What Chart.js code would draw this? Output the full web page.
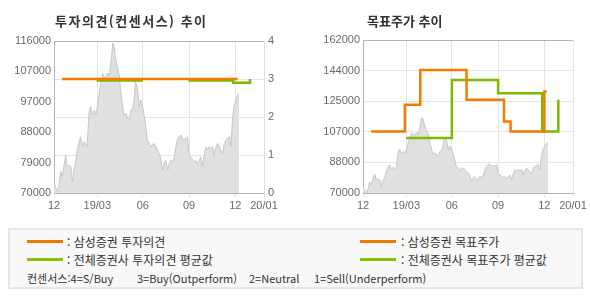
<!DOCTYPE html>
<html lang="ko">
<head>
<meta charset="UTF-8">
<title>투자의견 / 목표주가 추이</title>
<script src="https://cdn.jsdelivr.net/npm/chart.js"></script>
<style>
  body { margin: 0; background: #fff; font-family: "Noto Sans CJK KR", sans-serif; }
  #wrap { position: relative; width: 590px; height: 300px; overflow: hidden; }
  canvas { position: absolute; top: 0; }
  .title { position: absolute; top: 13px; font-size: 13px; line-height: 16px; font-weight: bold; color: #333; white-space: nowrap; }
  .legend { position: absolute; left: 8px; top: 228px; width: 571px; height: 57px; border: 2px solid #e6e6e6; background: #f8f8f8; }
  .sw { position: absolute; width: 36px; height: 3px; }
  .lt { position: absolute; font-size: 12px; line-height: 14px; color: #333; white-space: nowrap; }
  .cs { position: absolute; top: 41px; font-size: 11px; line-height: 14px; color: #333; white-space: nowrap; }
</style>
</head>
<body>
<div id="wrap">
  <canvas id="opinionChart" width="300" height="220" style="left:0"></canvas>
  <canvas id="targetChart" width="290" height="220" style="left:300px"></canvas>
  <div class="title" style="left:55px; letter-spacing:1.5px">투자의견(컨센서스) 추이</div>
  <div class="title" style="left:367px">목표주가 추이</div>
  <div class="legend">
    <div class="sw" style="left:17px; top:10px; background:#f07800"></div>
    <div class="lt" style="left:57px; top:5px">: 삼성증권 투자의견</div>
    <div class="sw" style="left:350px; top:10px; background:#f07800"></div>
    <div class="lt" style="left:391px; top:5px">: 삼성증권 목표주가</div>
    <div class="sw" style="left:17px; top:28px; background:#84c300"></div>
    <div class="lt" style="left:57px; top:23px">: 전체증권사 투자의견 평균값</div>
    <div class="sw" style="left:350px; top:28px; background:#84c300"></div>
    <div class="lt" style="left:391px; top:23px">: 전체증권사 목표주가 평균값</div>
    <div class="cs" style="left:17px">컨센서스:4=S/Buy</div>
    <div class="cs" style="left:127px">3=Buy(Outperform)</div>
    <div class="cs" style="left:239px">2=Neutral</div>
    <div class="cs" style="left:304px">1=Sell(Underperform)</div>
  </div>
</div>

<script>
  // x axis = trading-day index since early Dec 2018
  const xTickDays = [0, 59, 121, 184, 247, 286];
  const xTickLabels = ['12', '19/03', '06', '09', '12', '20/01'];

  // stock price (gray area)
  const priceDays = [0, 2, 5, 7, 9, 11, 14, 16, 18, 20, 23, 25, 27, 30, 32, 34, 36, 39, 41, 43,
    45, 48, 50, 52, 55, 57, 59, 61, 64, 66, 68, 70, 73, 75, 77, 80, 82, 84, 86, 89,
    91, 93, 95, 98, 100, 102, 105, 107, 109, 111, 114, 116, 118, 120, 123, 125, 127, 130, 132, 134,
    136, 139, 141, 143, 145, 148, 150, 152, 155, 157, 159, 161, 164, 166, 168, 170, 173, 175, 177, 180,
    182, 184, 186, 189, 191, 193, 195, 198, 200, 202, 205, 207, 209, 211, 214, 216, 218, 220, 223, 225,
    227, 230, 232, 234, 236, 239, 241, 243, 245, 248, 250, 252];
  const priceValues = [73800, 71800, 70400, 72500, 76500, 74900, 78900, 81400, 77900, 78400,
    77900, 73300, 76900, 79900, 83500, 85000, 87000, 84000, 85500, 85000,
    84000, 95100, 96100, 93600, 95100, 93600, 96100, 99200, 103200, 106300,
    105300, 104800, 106300, 105300, 108300, 115400, 114400, 110300, 108300, 105300,
    100200, 97100, 93600, 94100, 92600, 92100, 95100, 95600, 98200, 103700,
    101200, 96100, 98200, 97100, 93100, 90100, 86000, 85000, 84000, 84500,
    85000, 84000, 83000, 82000, 80900, 76900, 78900, 79900, 76900, 78900,
    79900, 79400, 80900, 84000, 86000, 87000, 87500, 86500, 86000, 86500,
    87000, 82000, 80900, 79900, 79400, 79900, 78900, 79900, 80900, 77900,
    82000, 84000, 83000, 84000, 83500, 84000, 80900, 83500, 85000, 84000,
    83000, 82000, 85000, 86000, 86500, 87000, 84000, 92100, 96100, 98200,
    99700, 100200];

  // investment opinion (right axis 0-4)
  const opinionSamsungDays = [11, 250];
  const opinionSamsung = [3, 3];
  const opinionAvgDays = [58, 121, 150, 183, 244, 267];
  const opinionAvg = [2.96, 2.96, null, 2.96, 2.9, 3];

  const priceTicks = [70000, 79200, 88400, 97600, 106800, 116000];
  const priceTickLabels = ['70000', '79000', '88000', '97000', '107000', '116000'];

  // target price
  const targetTicks = [70000, 88400, 106800, 125200, 143600, 162000];
  const targetTickLabels = ['70000', '88000', '107000', '125000', '144000', '162000'];
  const targetSamsungDays = [11, 57, 78, 141, 192, 201, 247, 250];
  const targetSamsung = [107000, 123000, 144000, 126000, 113000, 107000, 131000, 131000];
  const targetAvgDays = [59, 121, 184, 244, 266];
  const targetAvg = [103000, 138000, 130000, 107000, 126000];

  const ORANGE = '#f57a00';
  const GREEN = '#7cb900';
  const LABEL = '#6a6a6a';
  const GRID = '#e6e6e6';
  const AXIS = '#b4b4b4';

  Chart.defaults.font.family = '"Liberation Sans", Arial, sans-serif';
  Chart.defaults.font.size = 11;
  Chart.defaults.color = LABEL;

  const frameTop = {
    id: 'frameTop',
    afterDatasetsDraw(chart) {
      const { ctx, chartArea: a } = chart;
      ctx.save();
      ctx.strokeStyle = AXIS;
      ctx.lineWidth = 1;
      ctx.beginPath();
      ctx.moveTo(a.left, Math.round(a.top) + 0.5);
      ctx.lineTo(a.right, Math.round(a.top) + 0.5);
      ctx.stroke();
      ctx.restore();
    }
  };

  function pts(days, vals) {
    return days.map((d, i) => ({ x: d, y: vals[i] }));
  }

  function priceDataset(axis) {
    return {
      data: pts(priceDays, priceValues), yAxisID: axis, order: 5,
      borderColor: '#c6c6c6', borderWidth: 1, backgroundColor: '#e0e0e0',
      fill: 'start', pointRadius: 0, tension: 0
    };
  }

  function stepDataset(days, vals, color, axis, order) {
    return {
      data: pts(days, vals), yAxisID: axis, order: order,
      borderColor: color, borderWidth: 2.5, pointRadius: 0, fill: false,
      stepped: 'before', spanGaps: false, borderCapStyle: 'butt', borderJoinStyle: 'miter'
    };
  }

  function xScale() {
    return {
      type: 'linear', min: 0, max: 286,
      afterBuildTicks: a => { a.ticks = xTickDays.map(v => ({ value: v })); },
      afterFit: s => { s.height = 27; },
      ticks: { autoSkip: false, maxRotation: 0, padding: 2, callback: (v, i) => xTickLabels[i] },
      grid: { color: GRID, tickLength: 4 },
      border: { color: AXIS }
    };
  }

  const baseOptions = {
    responsive: false,
    animation: false,
    events: [],
    plugins: { legend: { display: false }, tooltip: { enabled: false } }
  };

  new Chart(document.getElementById('opinionChart'), {
    type: 'line',
    data: {
      datasets: [
        stepDataset(opinionSamsungDays, opinionSamsung, ORANGE, 'yOp', 0),
        stepDataset(opinionAvgDays, opinionAvg, GREEN, 'yOp', 1),
        priceDataset('yPrice')
      ]
    },
    options: {
      ...baseOptions,
      layout: { padding: { top: 41, left: 0, right: 0, bottom: 0 } },
      scales: {
        x: xScale(),
        yPrice: {
          type: 'linear', position: 'left', min: 70000, max: 116000,
          afterBuildTicks: a => { a.ticks = priceTicks.map(v => ({ value: v })); },
          afterFit: s => { s.width = 54; },
          ticks: { padding: 3, callback: (v, i) => priceTickLabels[i] },
          grid: { drawOnChartArea: false, drawTicks: false },
          border: { color: AXIS }
        },
        yOp: {
          type: 'linear', position: 'right', min: 0, max: 4,
          afterFit: s => { s.width = 36; },
          ticks: { stepSize: 1, padding: 4 },
          grid: { color: GRID, drawTicks: false },
          border: { color: '#dedede' }
        }
      }
    },
    plugins: [frameTop]
  });

  new Chart(document.getElementById('targetChart'), {
    type: 'line',
    data: {
      datasets: [
        stepDataset(targetSamsungDays, targetSamsung, ORANGE, 'yTarget', 0),
        stepDataset(targetAvgDays, targetAvg, GREEN, 'yTarget', 1),
        priceDataset('yTarget')
      ]
    },
    options: {
      ...baseOptions,
      layout: { padding: { top: 40, left: 0, right: 17, bottom: 0 } },
      scales: {
        x: xScale(),
        yTarget: {
          type: 'linear', position: 'left', min: 70000, max: 162000,
          afterBuildTicks: a => { a.ticks = targetTicks.map(v => ({ value: v })); },
          afterFit: s => { s.width = 63; },
          ticks: { padding: 3, callback: (v, i) => targetTickLabels[i] },
          grid: { color: GRID, drawTicks: false },
          border: { color: AXIS }
        }
      }
    },
    plugins: [frameTop]
  });
</script>
</body>
</html>
